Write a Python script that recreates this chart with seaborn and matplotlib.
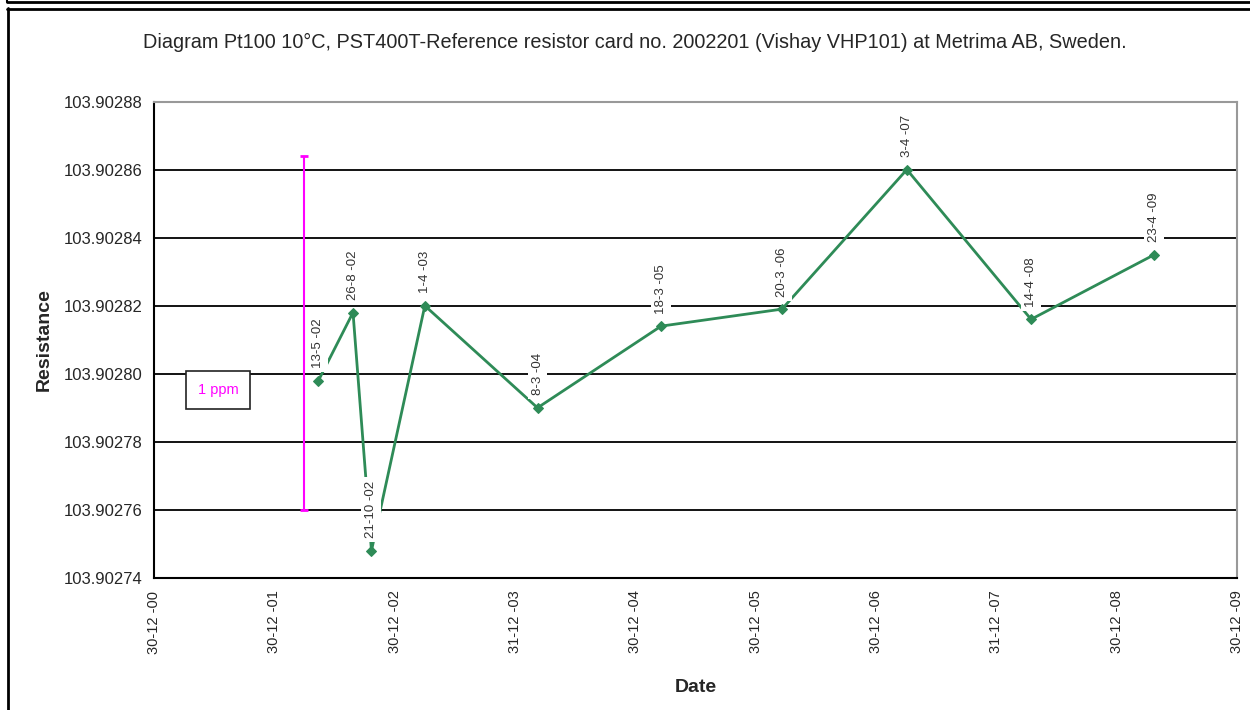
import matplotlib
matplotlib.use("Agg")
import matplotlib.pyplot as plt
from matplotlib.lines import Line2D
from matplotlib.ticker import FuncFormatter
import seaborn as sns
import pandas as pd

# ---- data ----
dates = ["2002-05-13", "2002-08-26", "2002-10-21", "2003-04-01", "2004-03-08",
         "2005-03-18", "2006-03-20", "2007-04-03", "2008-04-14", "2009-04-23"]
point_labels = ["13-5 -02", "26-8 -02", "21-10 -02", "1-4 -03", "8-3 -04",
                "18-3 -05", "20-3 -06", "3-4 -07", "14-4 -08", "23-4 -09"]
resistance = [103.902798, 103.902818, 103.902748, 103.902820, 103.902790,
              103.902814, 103.902819, 103.902860, 103.902816, 103.902835]

tick_dates = ["2000-12-30", "2001-12-30", "2002-12-30", "2003-12-31", "2004-12-30",
              "2005-12-30", "2006-12-30", "2007-12-31", "2008-12-30", "2009-12-30"]
tick_labels = ["30-12 -00", "30-12 -01", "30-12 -02", "31-12 -03", "30-12 -04",
               "30-12 -05", "30-12 -06", "31-12 -07", "30-12 -08", "30-12 -09"]
y_ticks = [103.90274, 103.90276, 103.90278, 103.90280, 103.90282,
           103.90284, 103.90286, 103.90288]

ppm_date = "2002-03-31"
ppm_low = 103.90276
ppm_high = 103.902864

df = pd.DataFrame({"Date": pd.to_datetime(dates), "Resistance": resistance})

# ---- styling ----
sns.set_style("white")
plt.rcParams["font.family"] = ["Liberation Sans", "DejaVu Sans"]

fig = plt.figure(figsize=(12.5, 7.1), dpi=100)
ax = fig.add_axes([154 / 1250, 1 - 578 / 710, (1237 - 154) / 1250, (578 - 101.5) / 710])

green = "#2E8B57"
sns.lineplot(data=df, x="Date", y="Resistance", ax=ax, color=green, marker="D",
             markersize=5, markeredgecolor=green, linewidth=2, sort=False, zorder=3)

# y grid lines
for yv in y_ticks[1:-1]:
    ax.axhline(yv, color="black", linewidth=1.3, zorder=1)

# data labels
for d, v, lab in zip(df["Date"], resistance, point_labels):
    ax.annotate(lab, xy=(d, v), xytext=(0, 9), textcoords="offset points",
                rotation=90, ha="center", va="bottom", fontsize=9.5, color="#333333",
                bbox=dict(boxstyle="square,pad=0.3", facecolor="white", edgecolor="none"),
                zorder=4)

# 1 ppm bar
pd_ppm = pd.to_datetime(ppm_date)
ax.errorbar([pd_ppm], [(ppm_low + ppm_high) / 2], yerr=[[(ppm_high - ppm_low) / 2]],
            color="magenta", capsize=3, elinewidth=1.5, capthick=2, fmt="none", zorder=5)
fig.text(218 / 1250, 1 - 390 / 710, "1 ppm", color="magenta", fontsize=10.5,
         ha="center", va="center",
         bbox=dict(boxstyle="square,pad=0.8", facecolor="white", edgecolor="#222222",
                   linewidth=1.2))

ax.set_xlim(pd.to_datetime(tick_dates[0]), pd.to_datetime(tick_dates[-1]))
ax.set_ylim(y_ticks[0], y_ticks[-1])
ax.set_xticks(pd.to_datetime(tick_dates))
ax.set_xticklabels(tick_labels, rotation=90, fontsize=10.5)
ax.set_yticks(y_ticks)
ax.yaxis.set_major_formatter(FuncFormatter(lambda v, p: f"{v:.5f}"))
ax.tick_params(axis="y", labelsize=12, direction="out", length=5, width=1.2, color="black", pad=3)
ax.tick_params(axis="x", direction="out", length=5, width=1.2, color="black", pad=4)

for s in ["left", "bottom"]:
    ax.spines[s].set_color("black")
    ax.spines[s].set_linewidth(1.5)
for s in ["top", "right"]:
    ax.spines[s].set_color("#999999")
    ax.spines[s].set_linewidth(1.5)

ax.set_xlabel("Date", fontsize=14, fontweight="bold", labelpad=18)
ax.set_ylabel("Resistance", fontsize=14, fontweight="bold", labelpad=8)

fig.text(0.508, 1 - 42 / 710, "Diagram Pt100 10\u00b0C, PST400T-Reference resistor card no. 2002201 (Vishay VHP101) at Metrima AB, Sweden.",
         ha="center", va="center", fontsize=14.3)

# outer frame lines (document border)
def px_line(x0, y0, x1, y1, color="black", lw=1.5):
    fig.add_artist(Line2D([x0 / 1250, x1 / 1250], [1 - y0 / 710, 1 - y1 / 710],
                          color=color, linewidth=lw, transform=fig.transFigure))

px_line(7, 2, 1250, 2, lw=2)
px_line(7, 0, 7, 2, lw=1.5)
px_line(7, 8.5, 1250, 8.5, lw=2)
px_line(7.5, 8, 7.5, 710, lw=2)

fig.savefig("out.png", dpi=100)
